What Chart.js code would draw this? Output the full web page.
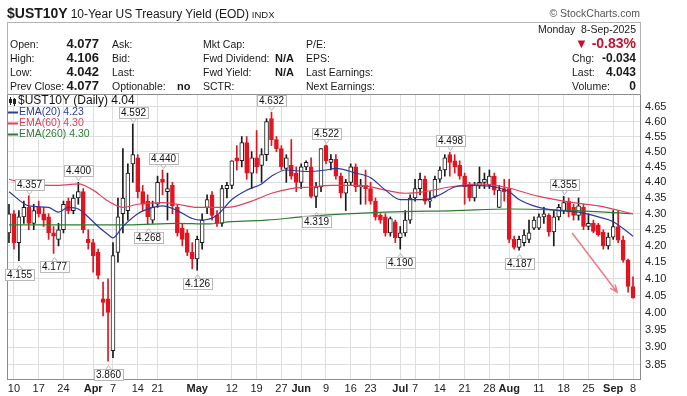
<!DOCTYPE html>
<html>
<head>
<meta charset="utf-8">
<title>$UST10Y</title>
<script src="https://cdn.jsdelivr.net/npm/chart.js@4.4.1/dist/chart.umd.min.js"></script>
<style>
  body { margin: 0; background: #fff; }
  #wrap { position: relative; width: 687px; height: 396px; overflow: hidden; font-family: "Liberation Sans", Arial, sans-serif; color: #1a1a1a; }
  #wrap canvas { position: absolute; left: 0; top: 0; }
  .t { position: absolute; white-space: nowrap; font-size: 10.5px; line-height: 14px; }
  .r { text-align: right; }
  .v { font-weight: bold; font-size: 13px; }
  .v2 { font-weight: bold; font-size: 12px; }
  .box { position: absolute; left: 7px; top: 22px; width: 632px; height: 72px; border: 1px solid #b4b4b4; border-bottom: none; }
</style>
</head>
<body>
<div id="wrap">
  <canvas id="chart" width="687" height="396"></canvas>

  <div class="t" style="left:7px;top:5px;line-height:16px"><span style="font-weight:bold;font-size:14px">$UST10Y</span> <span style="font-size:12px">10-Year US Treasury Yield (EOD)</span> <span style="font-size:9.5px">INDX</span></div>
  <div class="t r" style="right:47px;top:6px;color:#555;font-size:10.5px">&copy; StockCharts.com</div>

  <div class="box"></div>
  <!-- quote table -->
  <div class="t" style="left:10px;top:37px">Open:</div>
  <div class="t" style="left:10px;top:51px">High:</div>
  <div class="t" style="left:10px;top:65px">Low:</div>
  <div class="t" style="left:10px;top:79px">Prev Close:</div>
  <div class="t r v" style="right:588px;top:37px">4.077</div>
  <div class="t r v" style="right:588px;top:51px">4.106</div>
  <div class="t r v" style="right:588px;top:65px">4.042</div>
  <div class="t r v" style="right:588px;top:79px">4.077</div>

  <div class="t" style="left:112px;top:37px">Ask:</div>
  <div class="t" style="left:112px;top:51px">Bid:</div>
  <div class="t" style="left:112px;top:65px">Last:</div>
  <div class="t" style="left:112px;top:79px">Optionable:</div>
  <div class="t" style="left:177px;top:79px;font-weight:bold;font-size:11px">no</div>

  <div class="t" style="left:203px;top:37px">Mkt Cap:</div>
  <div class="t" style="left:203px;top:51px">Fwd Dividend:</div>
  <div class="t" style="left:203px;top:65px">Fwd Yield:</div>
  <div class="t" style="left:203px;top:79px">SCTR:</div>
  <div class="t r" style="right:393px;top:51px;font-weight:bold;font-size:11px">N/A</div>
  <div class="t r" style="right:393px;top:65px;font-weight:bold;font-size:11px">N/A</div>

  <div class="t" style="left:306px;top:37px">P/E:</div>
  <div class="t" style="left:306px;top:51px">EPS:</div>
  <div class="t" style="left:306px;top:65px">Last Earnings:</div>
  <div class="t" style="left:306px;top:79px">Next Earnings:</div>

  <div class="t r" style="right:51px;top:22px">Monday&nbsp; 8-Sep-2025</div>
  <div class="t r" style="right:51px;top:35px;line-height:16px;color:#c8102e;font-weight:bold;font-size:14px"><span style="font-size:13px">&#9660;</span> -0.83%</div>
  <div class="t" style="left:572px;top:51px">Chg:</div>
  <div class="t" style="left:572px;top:65px">Last:</div>
  <div class="t" style="left:572px;top:79px">Volume:</div>
  <div class="t r v2" style="right:51px;top:51px">-0.034</div>
  <div class="t r v2" style="right:51px;top:65px">4.043</div>
  <div class="t r v2" style="right:51px;top:79px">0</div>
</div>

<script>
// daily candles, 7-Mar-2025 .. 8-Sep-2025 (one entry per trading day)
const opens = [
  4.24, 4.30, 4.21, 4.29, 4.32, 4.27, 4.32, 4.30, 4.29, 4.24,
  4.22, 4.25, 4.34, 4.31, 4.35, 4.37, 4.22, 4.21, 4.18, 4.04,
  4.04, 3.89, 4.18, 4.30, 4.31, 4.46, 4.48, 4.37, 4.34, 4.28,
  4.33, 4.41, 4.37, 4.39, 4.32, 4.255, 4.24, 4.18, 4.16, 4.21,
  4.32, 4.36, 4.295, 4.27, 4.38, 4.39, 4.48, 4.47, 4.53, 4.43,
  4.48, 4.455, 4.49, 4.61, 4.54, 4.51, 4.445, 4.455, 4.43, 4.40,
  4.45, 4.45, 4.355, 4.385, 4.52, 4.465, 4.475, 4.42, 4.365, 4.40,
  4.45, 4.385, 4.39, 4.38, 4.34, 4.295, 4.29, 4.24, 4.275, 4.225,
  4.24, 4.28, 4.35, 4.38, 4.41, 4.34, 4.355, 4.41, 4.44, 4.49,
  4.47, 4.455, 4.42, 4.39, 4.35, 4.39, 4.40, 4.39, 4.42, 4.32,
  4.38, 4.38, 4.22, 4.195, 4.21, 4.22, 4.255, 4.255, 4.29, 4.295,
  4.243, 4.29, 4.31, 4.34, 4.32, 4.295, 4.32, 4.26, 4.27, 4.265,
  4.243, 4.20, 4.227, 4.26, 4.218, 4.156, 4.077
];
const highs = [
  4.33, 4.31, 4.31, 4.34, 4.357, 4.33, 4.34, 4.32, 4.30, 4.26,
  4.27, 4.34, 4.35, 4.36, 4.400, 4.38, 4.25, 4.22, 4.19, 4.09,
  4.10, 4.21, 4.35, 4.51, 4.46, 4.592, 4.49, 4.39, 4.36, 4.34,
  4.42, 4.440, 4.43, 4.40, 4.33, 4.27, 4.25, 4.21, 4.23, 4.30,
  4.36, 4.37, 4.31, 4.39, 4.40, 4.47, 4.52, 4.55, 4.55, 4.50,
  4.57, 4.51, 4.61, 4.632, 4.55, 4.52, 4.49, 4.54, 4.45, 4.46,
  4.47, 4.48, 4.40, 4.51, 4.522, 4.49, 4.49, 4.43, 4.41, 4.46,
  4.46, 4.41, 4.44, 4.40, 4.35, 4.30, 4.30, 4.29, 4.28, 4.26,
  4.31, 4.36, 4.41, 4.43, 4.42, 4.37, 4.42, 4.45, 4.49, 4.498,
  4.49, 4.47, 4.43, 4.40, 4.40, 4.45, 4.43, 4.44, 4.43, 4.39,
  4.41, 4.41, 4.23, 4.23, 4.25, 4.28, 4.29, 4.30, 4.32, 4.30,
  4.31, 4.33, 4.355, 4.35, 4.33, 4.35, 4.33, 4.30, 4.28, 4.27,
  4.25, 4.24, 4.31, 4.31, 4.23, 4.16, 4.106
];
const lows = [
  4.21, 4.19, 4.155, 4.27, 4.25, 4.25, 4.29, 4.26, 4.22, 4.177,
  4.20, 4.24, 4.30, 4.30, 4.33, 4.24, 4.19, 4.12, 4.10, 3.99,
  3.860, 3.87, 4.15, 4.24, 4.28, 4.40, 4.35, 4.31, 4.268, 4.27,
  4.32, 4.36, 4.28, 4.30, 4.23, 4.20, 4.17, 4.13, 4.126, 4.19,
  4.30, 4.28, 4.26, 4.26, 4.35, 4.38, 4.44, 4.45, 4.41, 4.38,
  4.43, 4.40, 4.47, 4.52, 4.50, 4.44, 4.40, 4.41, 4.37, 4.38,
  4.44, 4.35, 4.319, 4.37, 4.46, 4.44, 4.41, 4.35, 4.31, 4.39,
  4.37, 4.33, 4.33, 4.33, 4.28, 4.27, 4.23, 4.23, 4.21, 4.190,
  4.23, 4.27, 4.34, 4.36, 4.33, 4.32, 4.35, 4.40, 4.42, 4.42,
  4.43, 4.41, 4.33, 4.34, 4.34, 4.38, 4.38, 4.38, 4.36, 4.32,
  4.34, 4.21, 4.19, 4.187, 4.20, 4.21, 4.25, 4.25, 4.27, 4.23,
  4.20, 4.28, 4.30, 4.29, 4.28, 4.28, 4.25, 4.25, 4.24, 4.23,
  4.19, 4.19, 4.22, 4.21, 4.15, 4.06, 4.042
];
const closes = [
  4.30, 4.21, 4.29, 4.32, 4.27, 4.31, 4.30, 4.28, 4.24, 4.23,
  4.25, 4.33, 4.31, 4.35, 4.37, 4.25, 4.21, 4.17, 4.11, 4.03,
  4.00, 4.17, 4.29, 4.35, 4.43, 4.49, 4.37, 4.33, 4.29, 4.32,
  4.40, 4.40, 4.38, 4.325, 4.24, 4.22, 4.18, 4.16, 4.22, 4.28,
  4.345, 4.295, 4.27, 4.38, 4.39, 4.47, 4.47, 4.53, 4.43, 4.48,
  4.45, 4.49, 4.60, 4.54, 4.51, 4.45, 4.48, 4.42, 4.40, 4.45,
  4.465, 4.355, 4.385, 4.51, 4.47, 4.475, 4.42, 4.365, 4.40, 4.45,
  4.385, 4.39, 4.38, 4.34, 4.29, 4.28, 4.24, 4.285, 4.225, 4.24,
  4.28, 4.35, 4.38, 4.41, 4.34, 4.345, 4.41, 4.44, 4.48, 4.465,
  4.45, 4.42, 4.385, 4.35, 4.39, 4.40, 4.41, 4.42, 4.375, 4.375,
  4.37, 4.22, 4.195, 4.22, 4.233, 4.24, 4.28, 4.29, 4.30, 4.243,
  4.29, 4.32, 4.335, 4.305, 4.295, 4.325, 4.26, 4.27, 4.245, 4.235,
  4.20, 4.227, 4.26, 4.218, 4.156, 4.077, 4.043
];

// moving averages (trading-day index -> value)
const ema20Idx = [0, 4, 8, 10, 12, 14, 16, 18, 20, 21, 23, 26, 29, 31, 34, 37, 39, 42, 45, 48, 51, 53, 56, 60, 64, 66, 70, 73, 76, 79, 84, 87, 90, 94, 98, 101, 103, 107, 111, 115, 119, 122, 126];
const ema20Val = [4.37, 4.325, 4.32, 4.305, 4.32, 4.315, 4.29, 4.26, 4.235, 4.225, 4.26, 4.30, 4.32, 4.325, 4.31, 4.285, 4.28, 4.295, 4.345, 4.375, 4.395, 4.42, 4.44, 4.435, 4.44, 4.445, 4.43, 4.415, 4.375, 4.345, 4.345, 4.36, 4.385, 4.39, 4.385, 4.37, 4.345, 4.32, 4.31, 4.305, 4.29, 4.275, 4.23];
const ema60Idx = [0, 4, 10, 14, 17, 20, 23, 26, 31, 34, 38, 44, 49, 53, 57, 61, 65, 71, 76, 80, 84, 89, 95, 100, 107, 114, 119, 126];
const ema60Val = [4.41, 4.395, 4.39, 4.395, 4.375, 4.34, 4.32, 4.33, 4.335, 4.33, 4.32, 4.32, 4.34, 4.365, 4.38, 4.385, 4.39, 4.39, 4.375, 4.365, 4.37, 4.385, 4.395, 4.385, 4.355, 4.335, 4.325, 4.30];
const ema260Idx = [0, 12, 24, 34, 40, 45, 52, 59, 63, 76, 90, 101, 114, 126];
const ema260Val = [4.265, 4.265, 4.265, 4.27, 4.268, 4.275, 4.28, 4.29, 4.295, 4.305, 4.31, 4.315, 4.31, 4.30];

// axis ticks
const tickIdx = [1, 6, 11, 17, 21, 26, 30, 38, 45, 50, 55, 59, 64, 69, 73, 79, 82, 87, 92, 97, 101, 107, 112, 117, 122, 126];
const tickText = ['10', '17', '24', 'Apr', '7', '14', '21', 'May', '12', '19', '27', 'Jun', '9', '16', '23', 'Jul', '7', '14', '21', '28', 'Aug', '11', '18', '25', 'Sep', '8'];
const monthNames = ['Apr', 'May', 'Jun', 'Jul', 'Aug', 'Sep'];
const yTicks = [3.85, 3.90, 3.95, 4.00, 4.05, 4.10, 4.15, 4.20, 4.25, 4.30, 4.35, 4.40, 4.45, 4.50, 4.55, 4.60, 4.65];

// price tags on swing highs / lows, and the hand-drawn arrow
const highTags = [4, 14, 25, 31, 53, 64, 89, 112];
const lowTags = [2, 9, 20, 28, 38, 62, 79, 103];
const arrowFrom = [113.7, 4.24];
const arrowTo = [122.8, 4.06];

const FONT = '"Liberation Sans", Arial, sans-serif';
Chart.defaults.font.family = FONT;
Chart.defaults.color = '#222';

const UP = '#1a1a1a';
const DOWN = '#e3141f';
const BLUE = '#2c3a9e';
const RED = '#e0405a';
const GREEN = '#2f7d32';
const up = closes.map((c, i) => c >= opens[i]);
const pts = (idx, vals) => idx.map((x, k) => ({ x: x, y: vals[k] }));

const emaLine = (label, data, color) => ({
    type: 'line',
    label: label,
    data: data,
    borderColor: color,
    borderWidth: 1.2,
    pointRadius: 0,
    cubicInterpolationMode: 'monotone',
    order: 0
});

// legend, frame, price tags and arrow
const overlay = {
    id: 'overlay',
    afterDatasetsDraw(chart) {
        const { ctx, chartArea: a, scales: { x, y } } = chart;
        ctx.save();

        ctx.strokeStyle = '#8c8c8c';
        ctx.lineWidth = 1;
        ctx.beginPath();
        ctx.moveTo(a.left + 0.5, a.bottom);
        ctx.lineTo(a.left + 0.5, a.top + 0.5);
        ctx.lineTo(a.right, a.top + 0.5);
        ctx.stroke();

        // price tags
        ctx.font = '10px ' + FONT;
        ctx.textAlign = 'center';
        ctx.textBaseline = 'middle';
        const tag = (i, v, above) => {
            const px = Math.round(x.getPixelForValue(i)) + 0.5;
            const py = y.getPixelForValue(v);
            const txt = v.toFixed(3);
            const w = Math.round(ctx.measureText(txt).width) + 4;
            const h = 11;
            const by = Math.round(above ? py - 6 - h : py + 8) + 0.5;
            const bx = Math.round(px - w / 2) + 0.5;
            ctx.fillStyle = '#fff';
            ctx.fillRect(bx, by, w, h);
            ctx.strokeStyle = '#b8b8b8';
            ctx.strokeRect(bx, by, w, h);
            ctx.beginPath();
            if (above) {
                ctx.moveTo(px - 3, by + h);
                ctx.lineTo(px, by + h + 4);
                ctx.lineTo(px + 3, by + h);
            } else {
                ctx.moveTo(px - 3, by);
                ctx.lineTo(px, by - 4);
                ctx.lineTo(px + 3, by);
            }
            ctx.stroke();
            ctx.fillStyle = '#111';
            ctx.fillText(txt, px, by + h / 2 + 0.5);
        };
        highTags.forEach(i => tag(i, highs[i], true));
        lowTags.forEach(i => tag(i, lows[i], false));

        // arrow
        const x0 = x.getPixelForValue(arrowFrom[0]), y0 = y.getPixelForValue(arrowFrom[1]);
        const x1 = x.getPixelForValue(arrowTo[0]), y1 = y.getPixelForValue(arrowTo[1]);
        const ang = Math.atan2(y1 - y0, x1 - x0);
        ctx.strokeStyle = '#f07a84';
        ctx.lineWidth = 1.5;
        ctx.beginPath();
        ctx.moveTo(x0, y0);
        ctx.lineTo(x1, y1);
        ctx.moveTo(x1 - 8 * Math.cos(ang - 0.4), y1 - 8 * Math.sin(ang - 0.4));
        ctx.lineTo(x1, y1);
        ctx.lineTo(x1 - 8 * Math.cos(ang + 0.4), y1 - 8 * Math.sin(ang + 0.4));
        ctx.stroke();

        // legend
        ctx.textAlign = 'left';
        ctx.fillStyle = '#222';
        ctx.fillRect(a.left + 3, a.top + 3, 1, 8);
        ctx.fillRect(a.left + 2, a.top + 5, 3, 4);
        ctx.fillRect(a.left + 7, a.top + 4, 1, 8);
        ctx.strokeStyle = '#222';
        ctx.lineWidth = 1;
        ctx.strokeRect(a.left + 6.5, a.top + 5.5, 2, 4);
        ctx.font = '12px ' + FONT;
        ctx.fillStyle = '#111';
        ctx.fillText('$UST10Y (Daily) ' + closes[closes.length - 1].toFixed(2), a.left + 11, a.top + 7);
        const legend = [['EMA(20)', ema20Val, BLUE], ['EMA(60)', ema60Val, RED], ['EMA(260)', ema260Val, GREEN]];
        ctx.font = '10.5px ' + FONT;
        legend.forEach(([name, vals, col], k) => {
            const yy = Math.round(a.top + 18 + k * 10.8) + 0.5;
            ctx.strokeStyle = col;
            ctx.lineWidth = 2;
            ctx.beginPath();
            ctx.moveTo(a.left + 1, yy);
            ctx.lineTo(a.left + 11, yy);
            ctx.stroke();
            ctx.fillStyle = col;
            ctx.fillText(name + ' ' + vals[vals.length - 1].toFixed(2), a.left + 12, yy);
        });
        ctx.restore();
    }
};

new Chart(document.getElementById('chart'), {
    type: 'bar',
    data: {
        datasets: [
            emaLine('EMA(20)', pts(ema20Idx, ema20Val), BLUE),
            emaLine('EMA(60)', pts(ema60Idx, ema60Val), RED),
            emaLine('EMA(260)', pts(ema260Idx, ema260Val), GREEN),
            {
                label: 'body',
                data: opens.map((o, i) => ({ x: i, y: [o, closes[i]] })),
                backgroundColor: up.map(u => u ? '#fff' : DOWN),
                borderColor: up.map(u => u ? UP : DOWN),
                borderWidth: 1,
                borderSkipped: false,
                barThickness: 4,
                minBarLength: 1,
                grouped: false,
                order: 1
            },
            {
                label: 'wick',
                data: lows.map((l, i) => ({ x: i, y: [l, highs[i]] })),
                backgroundColor: up.map(u => u ? UP : DOWN),
                barThickness: 1,
                grouped: false,
                order: 2
            }
        ]
    },
    options: {
        responsive: false,
        animation: false,
        events: [],
        layout: { padding: { top: 94, left: 7, right: 0, bottom: 0 } },
        scales: {
            x: {
                type: 'linear',
                min: -0.4,
                max: 127.41,
                offset: false,
                afterBuildTicks: s => { s.ticks = tickIdx.map(v => ({ value: v })); },
                afterFit: s => { s.height = 17; },
                grid: { color: '#dedede', drawTicks: false, offset: false },
                border: { display: true, color: '#8c8c8c' },
                ticks: {
                    autoSkip: false,
                    maxRotation: 0,
                    padding: 3,
                    color: '#222',
                    font: ctx => ({
                        size: 11,
                        family: FONT,
                        weight: monthNames.includes(tickText[tickIdx.indexOf(ctx.tick && ctx.tick.value)]) ? 'bold' : 'normal'
                    }),
                    callback: v => tickText[tickIdx.indexOf(v)]
                }
            },
            y: {
                type: 'logarithmic',
                position: 'right',
                min: 3.81,
                max: 4.694,
                beginAtZero: false,
                afterBuildTicks: s => { s.ticks = yTicks.map(v => ({ value: v })); },
                afterFit: s => { s.width = 47; },
                grid: { color: '#dedede', drawTicks: false },
                border: { display: true, color: '#8c8c8c' },
                ticks: {
                    padding: 5,
                    color: '#222',
                    font: { size: 11 },
                    callback: v => Number(v).toFixed(2)
                }
            }
        },
        plugins: {
            legend: { display: false },
            tooltip: { enabled: false }
        }
    },
    plugins: [overlay]
});
</script>
</body>
</html>
